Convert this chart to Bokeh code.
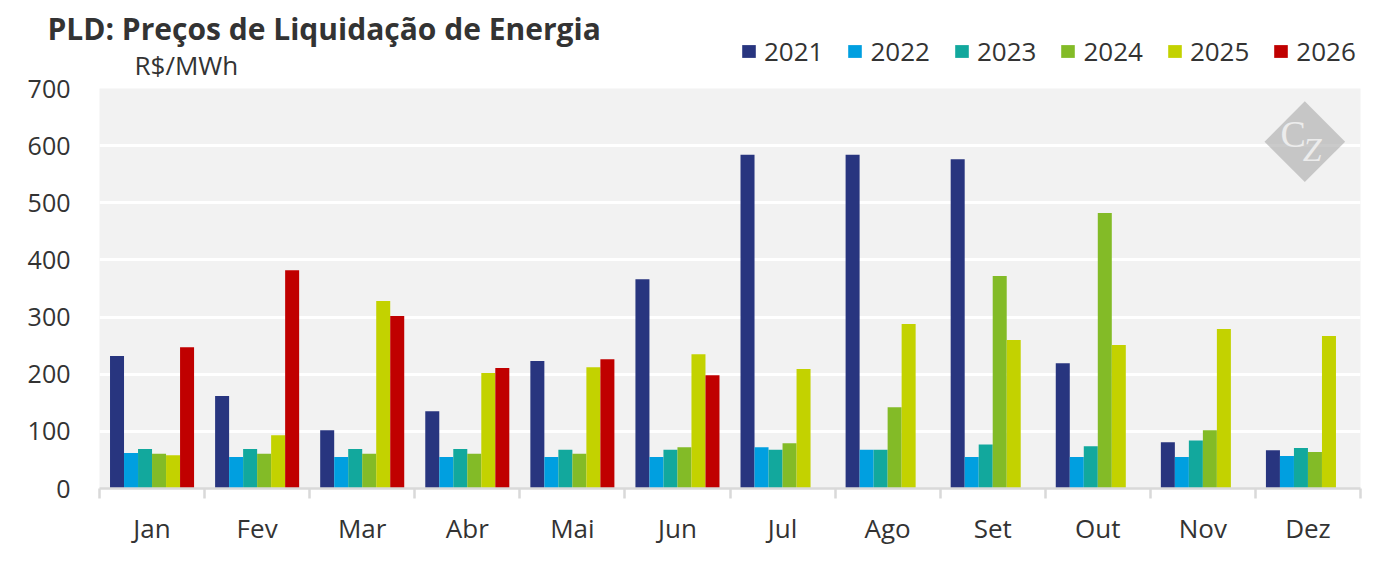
from bokeh.plotting import figure
from bokeh.layouts import column
from bokeh.models import (ColumnDataSource, FixedTicker, Label, Legend, LegendItem, Range1d)
from bokeh.transform import dodge
from bokeh.core.properties import value
from bokeh.embed import file_html
from bokeh.resources import INLINE
import math

# ---------------- data ----------------
months = ["Jan", "Fev", "Mar", "Abr", "Mai", "Jun", "Jul", "Ago", "Set", "Out", "Nov", "Dez"]
years = ["2021", "2022", "2023", "2024", "2025", "2026"]
pld_2021 = [232, 162, 102, 135, 223, 366, 584, 584, 576, 219, 81, 67]
pld_2022 = [62, 55, 55, 55, 55, 55, 72, 68, 55, 55, 55, 57]
pld_2023 = [69, 69, 69, 69, 68, 68, 68, 68, 77, 74, 84, 71]
pld_2024 = [61, 61, 61, 61, 61, 72, 79, 142, 372, 482, 102, 64]
pld_2025 = [58, 93, 328, 202, 212, 235, 209, 288, 260, 251, 279, 267]
pld_2026 = [247, 382, 302, 211, 226, 198, math.nan, math.nan, math.nan, math.nan, math.nan, math.nan]
y_ticks = [0, 100, 200, 300, 400, 500, 600, 700]

title_text = "PLD: Preços de Liquidação de Energia"
unit_text = "R$/MWh"

colors = ["#28357f", "#009fe0", "#12a89d", "#83bb27", "#c3d200", "#c00000"]
series = [pld_2021, pld_2022, pld_2023, pld_2024, pld_2025, pld_2026]

TXT = "#333333"
FONT = "Open Sans"
W = 1379
HEAD_H = 88
OVERLAP = 20

centers = [i + 0.5 for i in range(len(months))]
bounds = [i for i in range(len(months) + 1)]

data = {"x": centers}
for y, s in zip(years, series):
    data["y" + y] = s
src = ColumnDataSource(data)
bw = 0.1333

# ---------------- header (title, unit, legend) ----------------
h = figure(width=W, height=HEAD_H, output_backend="svg", toolbar_location=None,
           x_range=Range1d(0, W), y_range=Range1d(HEAD_H, 0),
           x_axis_type=None, y_axis_type=None,
           min_border_left=0, min_border_right=0, min_border_top=0, min_border_bottom=0)
h.frame_align = False
h.outline_line_color = None
h.grid.visible = False
h.background_fill_color = "white"
h.border_fill_color = "white"

h.add_layout(Label(x=47, y=28, text=title_text, text_font=FONT, text_font_size="30px",
                   text_font_style="bold", text_color=TXT, text_baseline="middle"))
h.add_layout(Label(x=134, y=64, text=unit_text, text_font=FONT, text_font_size="26px",
                   text_color=TXT, text_baseline="middle"))

items = []
for y, c in zip(years, colors):
    # legend swatches: same data, renderer hidden in the header
    r = h.vbar(x="x", top="y" + y, width=bw, source=src, fill_color=c, line_color=None,
               visible=False)
    items.append(LegendItem(label=y, renderers=[r]))
legend = Legend(items=items, orientation="horizontal", location=(740, 19),
                glyph_width=17, glyph_height=16, label_standoff=7, spacing=23,
                padding=0, margin=0, border_line_color=None, background_fill_alpha=0,
                label_text_font=FONT, label_text_font_size="26px", label_text_color=TXT,
                label_height=16)
h.add_layout(legend, "center")

# ---------------- main chart ----------------
p = figure(width=W, height=549 - HEAD_H + OVERLAP, output_backend="svg", toolbar_location=None,
           x_range=Range1d(0, len(months)), y_range=Range1d(0, 700),
           min_border_left=99, min_border_right=19, min_border_top=OVERLAP, min_border_bottom=61,
           margin=(-OVERLAP, 0, 0, 0))
p.frame_align = False
p.background_fill_color = "#f2f2f2"
p.border_fill_color = "white"
p.border_fill_alpha = 0
p.outline_line_color = None

for j, (y, c) in enumerate(zip(years, colors)):
    p.vbar(x=dodge("x", (j - 2.5) * bw, range=p.x_range), top="y" + y, width=bw,
           source=src, fill_color=c, line_color=None)

p.xgrid.visible = False
p.ygrid.grid_line_color = "white"
p.ygrid.grid_line_width = 3
p.ygrid.ticker = FixedTicker(ticks=y_ticks)

p.yaxis.ticker = FixedTicker(ticks=y_ticks)
p.yaxis.axis_line_color = None
p.yaxis.major_tick_line_color = None
p.yaxis.minor_tick_line_color = None
p.yaxis.major_tick_out = 0
p.yaxis.major_label_standoff = 29
p.yaxis.major_label_text_font = FONT
p.yaxis.major_label_text_font_size = "25px"
p.yaxis.major_label_text_color = TXT

p.xaxis.ticker = FixedTicker(ticks=centers, minor_ticks=bounds)
p.xaxis.major_label_overrides = {c: m for c, m in zip(centers, months)}
p.xaxis.axis_line_color = "#d9d9d9"
p.xaxis.axis_line_width = 2.5
p.xaxis.major_tick_line_color = None
p.xaxis.major_tick_out = 0
p.xaxis.major_tick_in = 0
p.xaxis.minor_tick_line_color = "#d9d9d9"
p.xaxis.minor_tick_line_width = 2.5
p.xaxis.minor_tick_out = 10
p.xaxis.minor_tick_in = 0
p.xaxis.major_label_standoff = 11
p.xaxis.major_label_text_font = FONT
p.xaxis.major_label_text_font_size = "26px"
p.xaxis.major_label_text_color = TXT

# watermark (decoration)
p.scatter(x=[11.47], y=[607], marker="square", angle=math.pi / 4, size=57,
          fill_color="#b4b4b4", fill_alpha=0.7, line_color=None)
p.text(x=[11.36], y=[620], text=["C"], text_font=value("Liberation Serif"),
       text_font_size="38px", text_color="#ececec", text_align="center", text_baseline="middle")
p.text(x=[11.54], y=[594], text=["Z"], text_font=value("Liberation Serif"),
       text_font_size="34px", text_font_style="italic", text_color="#ececec",
       text_align="center", text_baseline="middle")

layout = column(h, p, spacing=0)
open("out.html", "w").write(file_html(layout, INLINE))
